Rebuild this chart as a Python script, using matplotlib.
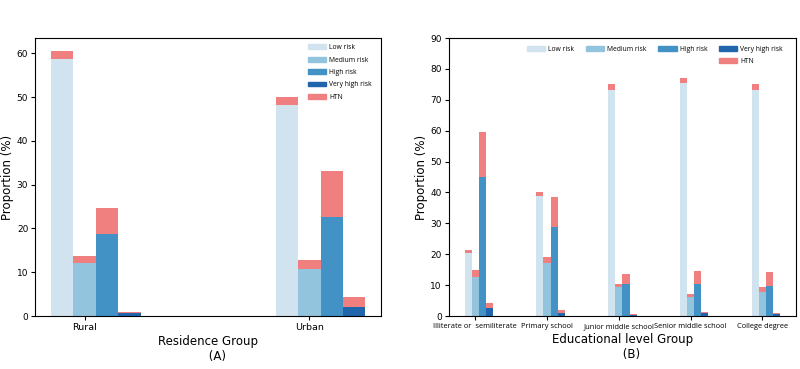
import matplotlib
matplotlib.use("Agg")
import matplotlib.pyplot as plt
from matplotlib.patches import Rectangle
import numpy as np

# ---- data ----
risk_levels = ["Low risk", "Medium risk", "High risk", "Very high risk"]
htn_label = "HTN"

res_groups = ["Rural", "Urban"]
res_low = [58.7, 48.3]
res_low_htn = [1.8, 1.8]
res_medium = [12.0, 10.8]
res_medium_htn = [1.8, 1.9]
res_high = [18.7, 22.7]
res_high_htn = [6.0, 10.4]
res_vhigh = [0.6, 2.1]
res_vhigh_htn = [0.4, 2.2]

edu_groups = ["Illiterate or  semiliterate", "Primary school", "Junior middle school",
              "Senior middle school", "College degree"]
edu_low = [20.3, 38.8, 73.2, 75.5, 73.2]
edu_low_htn = [1.1, 1.4, 2.0, 1.7, 2.0]
edu_medium = [12.7, 17.0, 9.3, 6.3, 7.9]
edu_medium_htn = [2.2, 2.2, 1.0, 0.7, 1.6]
edu_high = [44.9, 28.9, 10.3, 10.4, 9.7]
edu_high_htn = [14.8, 9.7, 3.3, 4.3, 4.4]
edu_vhigh = [2.6, 1.1, 0.4, 0.9, 0.8]
edu_vhigh_htn = [1.5, 0.8, 0.2, 0.5, 0.3]

colors = ["#d1e3ef", "#93c4de", "#4292c6", "#2166ac"]
htn_color = "#f08080"
width = 0.1

fig = plt.figure(figsize=(8, 3.69), dpi=100)
axA = fig.add_axes([0.044, 0.1436, 0.4325, 0.7534])
axB = fig.add_axes([0.561, 0.1436, 0.434, 0.7534])


def draw(ax, groups, bases, htns):
    x = np.arange(len(groups))
    offsets = [-1, 0, 1, 2]
    for i, (b, h) in enumerate(zip(bases, htns)):
        ax.bar(x + offsets[i] * width, b, width, color=colors[i], label=risk_levels[i])
        ax.bar(x + offsets[i] * width, h, width, bottom=b, color=htn_color,
               label=htn_label if i == 0 else None)
    ax.set_xticks(x)
    ax.set_xticklabels(groups)
    return x


draw(axA, res_groups,
     [res_low, res_medium, res_high, res_vhigh],
     [res_low_htn, res_medium_htn, res_high_htn, res_vhigh_htn])
draw(axB, edu_groups,
     [edu_low, edu_medium, edu_high, edu_vhigh],
     [edu_low_htn, edu_medium_htn, edu_high_htn, edu_vhigh_htn])

axB.set_ylim(0, 90)

for ax in (axA, axB):
    ax.set_ylabel("Proportion (%)", fontsize=8.5, labelpad=2)
    ax.tick_params(axis="y", labelsize=6.5, length=3, pad=2)
axA.tick_params(axis="x", labelsize=6.8, length=3, pad=2)
axB.tick_params(axis="x", labelsize=5.4, length=3, pad=2)
for t in axB.get_xticklabels():
    t.set_fontfamily(["Open Sans", "DejaVu Sans"])

axA.set_xlabel("Residence Group\n     (A)", fontsize=8.5, labelpad=2)
axB.set_xlabel("Educational level Group\n     (B)", fontsize=8.5, labelpad=2)

# legends
leg_font = {"family": ["Open Sans", "DejaVu Sans"], "size": 4.9}
hA = [Rectangle((0, 0), 1, 1, color=c) for c in colors] + [Rectangle((0, 0), 1, 1, color=htn_color)]
lA = risk_levels + [htn_label]
axA.legend(hA, lA, loc="upper right", bbox_to_anchor=(0.99, 1.0), frameon=False,
           prop=leg_font, handlelength=2.7, labelspacing=0.8, handletextpad=0.45)

blank = Rectangle((0, 0), 1, 1, fill=False, edgecolor="none", visible=False)
hB = [hA[0], blank, hA[1], blank, hA[2], blank, hA[3], hA[4]]
lB = [lA[0], "", lA[1], "", lA[2], "", lA[3], lA[4]]
axB.legend(hB, lB, loc="upper right", bbox_to_anchor=(0.98, 0.995), ncol=4, frameon=False,
           prop=leg_font, handlelength=2.7, labelspacing=0.8, handletextpad=0.45,
           columnspacing=1.7)

fig.savefig("out.png", dpi=100)
